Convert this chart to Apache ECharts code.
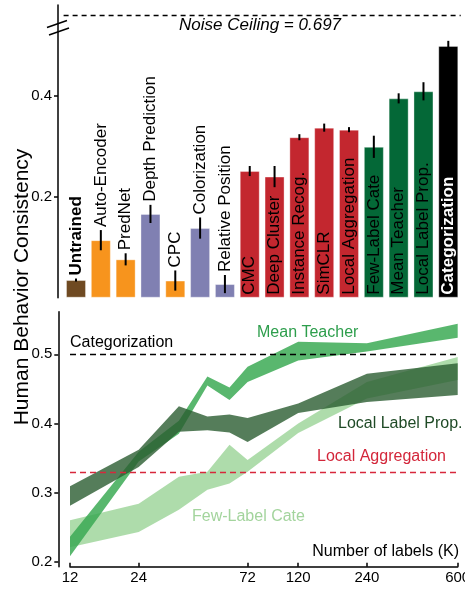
<!DOCTYPE html>
<html><head><meta charset="utf-8">
<script src="https://cdn.jsdelivr.net/npm/echarts@6/dist/echarts.min.js"></script>
<style>html,body{margin:0;padding:0;background:#fff}#c{width:465px;height:592px}</style>
</head><body><div id="c"></div>
<script>
// ---------- DATA ----------
const methods = ['Untrained','Auto-Encoder','PredNet','Depth Prediction','CPC','Colorization','Relative Position',
  'CMC','Deep Cluster','Instance Recog.','SimCLR','Local Aggregation','Few-Label Cate','Mean Teacher','Local Label Prop.','Categorization'];
const consistency = [0.035,0.114,0.076,0.166,0.034,0.138,0.027,0.251,0.240,0.318,0.337,0.333,0.299,0.395,0.409,0.499];
const errors      = [0.003,0.020,0.012,0.018,0.020,0.021,0.018,0.010,0.021,0.006,0.008,0.005,0.022,0.010,0.018,0.010];
const groups = ['untrained','orange','orange','purple','orange','purple','purple',
  'red','red','red','red','red','green','green','green','black'];
const noiseCeilingText = 'Noise Ceiling = 0.697';
const noiseCeilingAxisPos = 0.562; // position of the ceiling above the axis break
const yTicksTop = [0.2, 0.4];

const labelsK = [12,24,36,48,60,72,120,240,600];
const kTicks = [12,24,72,120,240,600];
const yTicksBottom = [0.2,0.3,0.4,0.5];
const meanTeacherLow  = [0.208,0.345,0.385,0.455,0.434,0.460,0.491,0.504,0.524];
const meanTeacherHigh = [0.236,0.359,0.404,0.468,0.452,0.482,0.518,0.516,0.544];
const labelPropLow    = [0.281,0.337,0.388,0.390,0.387,0.373,0.415,0.431,0.441];
const labelPropHigh   = [0.309,0.362,0.425,0.410,0.413,0.408,0.429,0.472,0.487];
const fewLabelLow     = [0.221,0.243,0.275,0.304,0.313,0.330,0.386,0.436,0.463];
const fewLabelHigh    = [0.260,0.284,0.323,0.330,0.369,0.347,0.400,0.460,0.496];

// ---------- STYLE ----------
const FONT = 'Liberation Sans, Arial, Helvetica, sans-serif';
const groupColor = {untrained:'#6f4a22', orange:'#f7941d', purple:'#8080b2', red:'#c3272f', green:'#046837', black:'#000000'};
const insideGroups = {red:true, green:true, black:true};

const chart = echarts.init(document.getElementById('c'), null, {renderer:'canvas'});

function band(name, low, high, color){
  return {type:'custom', name:name, xAxisIndex:1, yAxisIndex:1, silent:true,
    data: labelsK.map((k,i)=>[k, low[i], high[i]]),
    encode:{x:0, y:[1,2]},
    renderItem:function(params, api){
      if(params.dataIndex !== 0) return null;
      const top = labelsK.map((k,i)=>api.coord([k, high[i]]));
      const bot = labelsK.map((k,i)=>api.coord([k, low[i]])).reverse();
      return {type:'polygon', shape:{points: top.concat(bot)}, style:{fill:color, stroke:null}};
    }};
}

const option = {
  animation:false,
  textStyle:{fontFamily:FONT},
  grid:[
    {left:63.6, right:4.3, top:5, bottom:294.3, outerBoundsMode:'none'},
    {left:70, right:7.3, top:311.7, bottom:25.3, outerBoundsMode:'none'}
  ],
  xAxis:[
    {type:'category', gridIndex:0, data:methods, show:false},
    {type:'log', gridIndex:1, logBase:10, min:12, max:600,
     axisLine:{show:true, lineStyle:{color:'#000', width:1.5}},
     axisTick:{show:true, inside:true, length:4, lineStyle:{color:'#000', width:1.5}, customValues:kTicks},
     axisLabel:{show:true, customValues:kTicks, color:'#000', fontSize:15, margin:4, fontFamily:FONT,
       alignMinLabel:'center', alignMaxLabel:'center', hideOverlap:false,
       formatter:v=>String(Math.round(v))},
     splitLine:{show:false}, minorTick:{show:false}}
  ],
  yAxis:[
    {type:'value', gridIndex:0, min:0, max:0.58, offset:5.6,
     axisLine:{show:true, lineStyle:{color:'#000', width:1.5}},
     axisTick:{show:true, length:4, lineStyle:{color:'#000', width:1.5}, customValues:yTicksTop},
     axisLabel:{show:true, customValues:yTicksTop, color:'#000', fontSize:15, margin:6, fontFamily:FONT, formatter:v=>v.toFixed(1)},
     splitLine:{show:false}},
    {type:'value', gridIndex:1, min:0.1928, max:0.5616, offset:11.7,
     axisLine:{show:true, lineStyle:{color:'#000', width:1.5}},
     axisTick:{show:true, length:4, lineStyle:{color:'#000', width:1.5}, customValues:yTicksBottom},
     axisLabel:{show:true, customValues:yTicksBottom, color:'#000', fontSize:15, margin:6, fontFamily:FONT, formatter:v=>v.toFixed(1)},
     splitLine:{show:false}}
  ],
  series:[
    {type:'bar', xAxisIndex:0, yAxisIndex:0, barWidth:20,
     data: consistency.map((v,i)=>{
       const g = groups[i];
       const inside = insideGroups[g];
       return {value:v,
         itemStyle:{color:groupColor[g], borderColor:'rgba(255,255,255,0.35)', borderWidth:1},
         label: inside ? {show:true, position:'insideBottom', rotate:90, align:'left', verticalAlign:'middle',
            distance:3, fontSize:17, fontFamily:FONT,
            color: g==='black' ? '#fff' : '#000', fontWeight: g==='black' ? 'bold' : 'normal',
            formatter: methods[i]} : {show:false}};
     }),
     markLine:{silent:true, symbol:'none', label:{show:false},
       lineStyle:{color:'#000', type:[5,4], width:1.3},
       data:[{yAxis:noiseCeilingAxisPos}]}
    },
    {type:'custom', xAxisIndex:0, yAxisIndex:0, z:10,
     data: consistency.map((v,i)=>[i, v-errors[i], v+errors[i]]),
     encode:{x:0, y:[1,2]},
     renderItem:function(params, api){
       const i = params.dataIndex;
       const lo = api.coord([api.value(0), api.value(1)]);
       const hi = api.coord([api.value(0), api.value(2)]);
       const children = [{type:'line', shape:{x1:lo[0], y1:lo[1], x2:hi[0], y2:hi[1]},
         style:{stroke:'#000', lineWidth:2}}];
       if(!insideGroups[groups[i]]){
         children.push({type:'text', x:hi[0], y:hi[1]-3, rotation:Math.PI/2,
           style:{text:methods[i], align:'left', verticalAlign:'middle', fill:'#000',
             font:(groups[i]==='untrained'?'bold ':'')+'17px '+FONT}});
       }
       return {type:'group', children};
     }},
    band('few', fewLabelLow, fewLabelHigh, 'rgba(140,205,135,0.7)'),
    band('mt', meanTeacherLow, meanTeacherHigh, 'rgba(60,170,85,0.85)'),
    band('llp', labelPropLow, labelPropHigh, 'rgba(42,92,49,0.8)'),
    {type:'line', xAxisIndex:1, yAxisIndex:1, data:[], symbol:'none',
     markLine:{silent:true, symbol:'none', label:{show:false},
       data:[
         {yAxis:consistency[methods.indexOf('Categorization')], lineStyle:{color:'#000', type:[6,4], width:1.4}},
         {yAxis:consistency[methods.indexOf('Local Aggregation')], lineStyle:{color:'#d7283c', type:[6,4], width:1.4}}
       ]}}
  ],
  graphic:[
    {type:'text', x:22, y:287, rotation:Math.PI/2, style:{text:'Human Behavior Consistency', align:'center', verticalAlign:'middle', font:'21px '+FONT, fill:'#000'}},
    {type:'text', x:260, y:25, style:{text:noiseCeilingText, align:'center', verticalAlign:'middle', font:'italic 17px '+FONT, fill:'#000'}},
    {type:'line', shape:{x1:47, y1:27.5, x2:67, y2:20.5}, style:{stroke:'#000', lineWidth:1.5}},
    {type:'line', shape:{x1:49, y1:35, x2:69, y2:28}, style:{stroke:'#000', lineWidth:1.5}},
    {type:'text', x:70, y:343, style:{text:'Categorization', align:'left', verticalAlign:'middle', font:'16px '+FONT, fill:'#000'}},
    {type:'text', x:257, y:333, style:{text:'Mean Teacher', align:'left', verticalAlign:'middle', font:'16px '+FONT, fill:'#2d9e4c'}},
    {type:'text', x:338, y:424, style:{text:'Local Label Prop.', align:'left', verticalAlign:'middle', font:'16px '+FONT, fill:'#1f4a26'}},
    {type:'text', x:317, y:457, style:{text:'Local Aggregation', align:'left', verticalAlign:'middle', font:'16px '+FONT, fill:'#d3263a'}},
    {type:'text', x:192, y:517, style:{text:'Few-Label Cate', align:'left', verticalAlign:'middle', font:'16px '+FONT, fill:'#a3d49d'}},
    {type:'text', x:459, y:552, style:{text:'Number of labels (K)', align:'right', verticalAlign:'middle', font:'16px '+FONT, fill:'#000'}}
  ]
};
chart.setOption(option);
</script>
</body></html>
